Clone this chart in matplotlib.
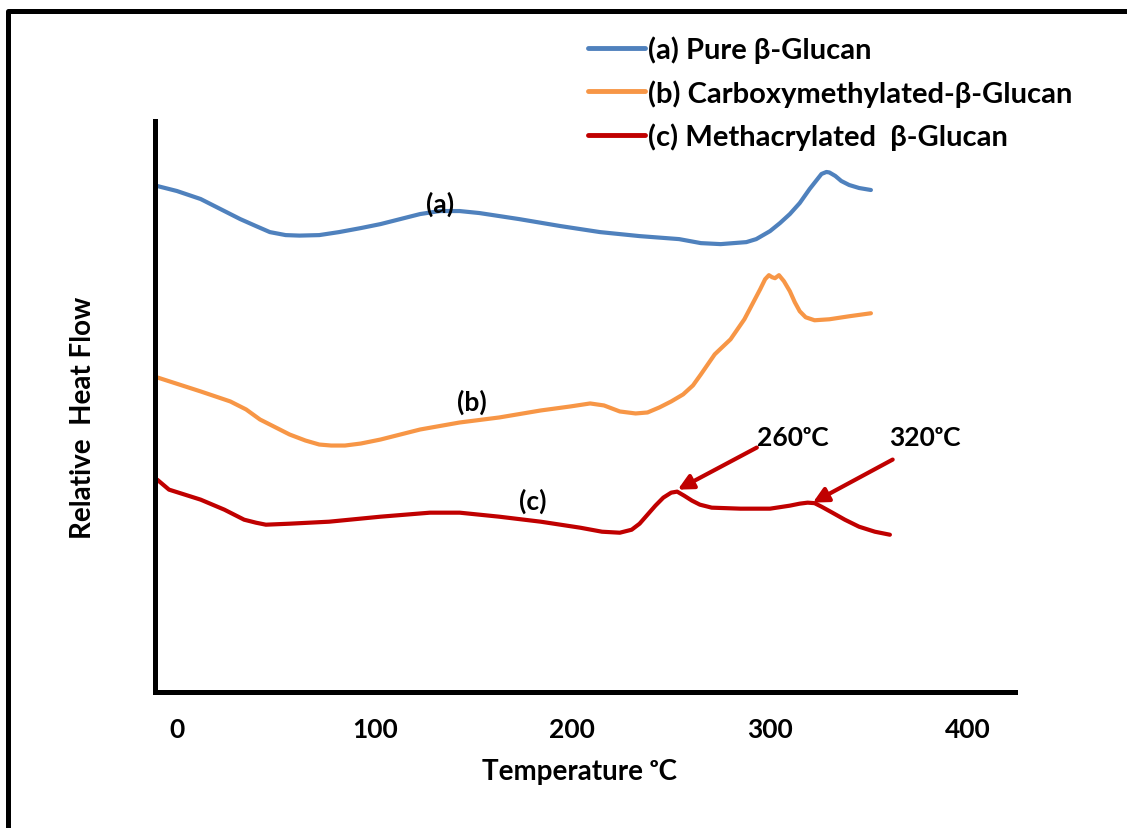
import matplotlib
matplotlib.use("Agg")
import matplotlib.pyplot as plt
from matplotlib.lines import Line2D

plt.rcParams['font.family'] = ['Lato', 'DejaVu Sans']
plt.rcParams['font.weight'] = 'bold'

# DSC traces, temperature in degC vs relative heat flow (arbitrary units)
temp_a = [-10, 0, 12, 22, 32, 40, 47, 55, 62, 72, 82, 93, 103, 113, 123, 133, 143,
          153, 163, 173, 194, 214, 234, 254, 265, 275, 288, 293, 300, 305, 310, 315,
          320, 324, 326, 328.5, 330, 333, 336, 340, 345, 351]
flow_a = [50.5, 50.0, 49.2, 48.2, 47.2, 46.5, 45.9, 45.6, 45.55, 45.6, 45.9, 46.3, 46.7,
          47.2, 47.7, 48.0, 48.0, 47.8, 47.5, 47.2, 46.5, 45.9, 45.5, 45.2, 44.8, 44.7,
          44.9, 45.2, 46.0, 46.8, 47.7, 48.8, 50.2, 51.2, 51.7, 51.9, 51.85, 51.5, 51.0,
          50.6, 50.3, 50.1]

temp_b = [-10, 12, 27, 35, 42, 50, 57, 65, 72, 78, 85, 93, 103, 123, 143, 163, 184,
          199, 209, 216, 224, 232, 238, 244, 250, 256, 261, 265, 272, 280, 287, 291,
          295, 297.5, 299.4, 301, 302.5, 304.5, 307, 310, 312.5, 315, 318, 322.5, 330,
          340, 351]
flow_b = [31.4, 30.0, 29.0, 28.2, 27.2, 26.4, 25.7, 25.1, 24.7, 24.6, 24.6, 24.8, 25.2,
          26.2, 26.9, 27.4, 28.1, 28.5, 28.8, 28.6, 28.0, 27.8, 27.9, 28.4, 29.0, 29.7,
          30.6, 31.7, 33.7, 35.2, 37.2, 38.7, 40.2, 41.2, 41.6, 41.4, 41.3, 41.6, 41.0,
          40.0, 38.9, 38.0, 37.4, 37.1, 37.2, 37.5, 37.8]

temp_c = [-10, -4, 4, 12, 24, 34, 40, 45, 57, 77, 103, 128, 143, 163, 184, 204, 215,
          224, 230, 234, 238, 242, 246, 250, 253, 256.5, 260.5, 264.5, 270.5, 285, 300,
          310, 315, 319, 322.5, 326, 331.5, 337.8, 345, 353, 360.6]
flow_c = [21.2, 20.2, 19.7, 19.2, 18.2, 17.2, 16.9, 16.7, 16.8, 17.0, 17.5, 17.9, 17.9,
          17.5, 17.0, 16.4, 16.0, 15.9, 16.2, 16.8, 17.7, 18.6, 19.4, 19.9, 20.0, 19.6,
          19.1, 18.7, 18.4, 18.3, 18.3, 18.6, 18.8, 18.9, 18.85, 18.5, 17.9, 17.2, 16.5,
          16.0, 15.7]

labels = ['(a) Pure β-Glucan', '(b) Carboxymethylated-β-Glucan', '(c) Methacrylated  β-Glucan']
colors = ['#4F81BD', '#F79646', '#C00000']
xticks = [0, 100, 200, 300, 400]

fig = plt.figure(figsize=(11.27, 8.29), dpi=100)
ax = fig.add_axes([0.1375, 0.164, 0.763, 0.689])

for t, f, lab, col in zip([temp_a, temp_b, temp_c], [flow_a, flow_b, flow_c], labels, colors):
    ax.plot(t, f, color=col, lw=3, label=lab, solid_capstyle='round', solid_joinstyle='round')

ax.set_xlim(-11.1, 423.8)
ax.set_ylim(0, 57.0)
ax.set_xticks(xticks)
ax.set_xticklabels([str(v) for v in xticks], fontsize=19, fontweight='bold')
ax.set_yticks([])
ax.tick_params(axis='x', length=0, pad=18)
for s in ['top', 'right']:
    ax.spines[s].set_visible(False)
for s in ['left', 'bottom']:
    ax.spines[s].set_linewidth(3.6)
    ax.spines[s].set_color('black')

# curve tags
ax.text(133, 48.8, '(a)', ha='center', va='center', fontsize=19, fontweight='bold')
ax.text(149, 29.0, '(b)', ha='center', va='center', fontsize=19, fontweight='bold')
ax.text(180, 19.1, '(c)', ha='center', va='center', fontsize=19, fontweight='bold')

# peak markers on the methacrylated trace
arrow = dict(arrowstyle='-|>,head_length=0.9,head_width=0.45', color='#C00000', lw=3,
             shrinkA=0, shrinkB=0)
ax.annotate('', xy=(253.3, 20.2), xytext=(293.3, 24.4), arrowprops=arrow)
ax.annotate('', xy=(321.6, 18.9), xytext=(362, 23.2), arrowprops=arrow)
ax.text(311.5, 25.5, '260ᵒC', ha='center', va='center', fontsize=19, fontweight='bold')
ax.text(378.3, 25.5, '320ᵒC', ha='center', va='center', fontsize=19, fontweight='bold')

leg = ax.legend(loc='upper left', bbox_to_anchor=(0.5217, 0.956), bbox_transform=fig.transFigure,
                frameon=False, fontsize=21, handlelength=1.95, handletextpad=0.1,
                labelspacing=0.55, borderpad=0, borderaxespad=0)
for h in leg.get_lines():
    h.set_linewidth(3.5)

fig.text(0.0736, 0.4958, 'Relative  Heat Flow', rotation=90, ha='center', va='center',
         fontsize=20, fontweight='bold')
fig.text(0.5146, 0.0688, 'Temperature ᵒC', ha='center', va='center',
         fontsize=20, fontweight='bold')

# outer frame, left and top edges
fig.add_artist(Line2D([0.0071, 0.0071, 1.0], [0.0, 0.9855, 0.9855], transform=fig.transFigure,
                      color='black', lw=3.6, solid_joinstyle='round'))

fig.savefig('out.png', dpi=100)
